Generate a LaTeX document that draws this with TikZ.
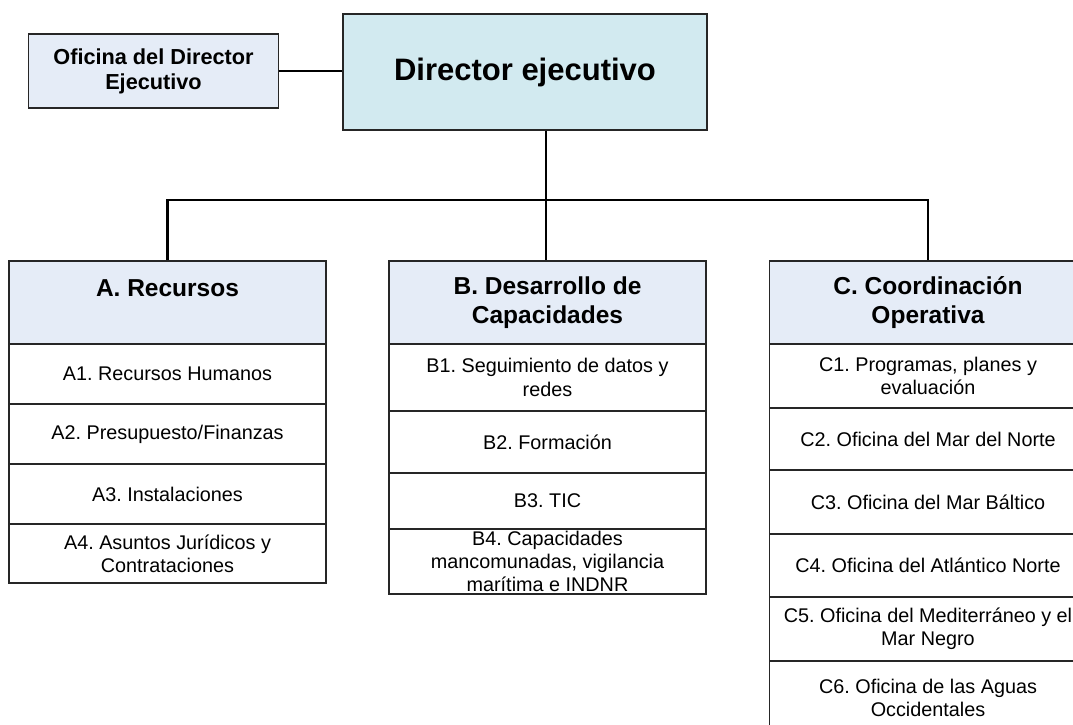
\documentclass[tikz,border=0pt]{standalone}
\usepackage{fontspec}
\setmainfont{Liberation Sans}
\usetikzlibrary{positioning}
\definecolor{dirblue}{RGB}{210,234,240}
\definecolor{headblue}{RGB}{229,236,247}

\begin{document}
\frenchspacing
\begin{tikzpicture}[x=1pt, y=-1pt,
        box/.style={rectangle, draw=black!85, line width=1.1pt, inner sep=0pt, align=center},
        head/.style={box, fill=headblue, minimum width=317pt, minimum height=83pt, font=\fontsize{24.5}{29.5}\selectfont\bfseries},
        unit/.style={box, fill=white, minimum width=317pt, font=\fontsize{19.8}{23.3}\selectfont},
        link/.style={line width=2.6pt}
    ]
        \useasboundingbox (0,0) rectangle (1073,725);

        % Top level
        \node[box, fill=dirblue, minimum width=364pt, minimum height=116pt, font=\fontsize{31}{37}\selectfont\bfseries] (director) at (525,72) {Director ejecutivo};
        \node[box, fill=headblue, minimum width=250pt, minimum height=74pt, font=\fontsize{21.7}{25}\selectfont\bfseries] (office) at (153.5,71) {Oficina del Director\\Ejecutivo};

        % A. Recursos
        \node[head] (headA) at (167.5,302.5) {A. Recursos\\\vphantom{A}};
        \node[unit, minimum height=60pt] (a1) at (167.5,374) {A1. Recursos Humanos};
        \node[unit, minimum height=60pt] (a2) at (167.5,434) {A2. Presupuesto/Finanzas};
        \node[unit, minimum height=60pt] (a3) at (167.5,494) {A3. Instalaciones};
        \node[unit, minimum height=59pt] (a4) at (167.5,553.5) {A4. Asuntos Jurídicos y\\Contrataciones};

        % B. Desarrollo de Capacidades
        \node[head] (headB) at (547.5,302.5) {B. Desarrollo de\\Capacidades};
        \node[unit, minimum height=67pt] (b1) at (547.5,377.5) {B1. Seguimiento de datos y\\redes};
        \node[unit, minimum height=62pt] (b2) at (547.5,442) {B2. Formación};
        \node[unit, minimum height=56pt] (b3) at (547.5,501) {B3. TIC};
        \node[unit, minimum height=65pt, inner ysep=-2pt] (b4) at (547.5,561.5) {B4. Capacidades\\mancomunadas, vigilancia\\marítima e INDNR};

        % C. Coordinacion Operativa
        \node[head] (headC) at (928,302.5) {C. Coordinación\\Operativa};
        \node[unit, minimum height=64pt] (c1) at (928,376) {C1. Programas, planes y\\evaluación};
        \node[unit, minimum height=62pt] (c2) at (928,439) {C2. Oficina del Mar del Norte};
        \node[unit, minimum height=64pt] (c3) at (928,502) {C3. Oficina del Mar Báltico};
        \node[unit, minimum height=63pt] (c4) at (928,565.5) {C4. Oficina del Atlántico Norte};
        \node[unit, minimum height=64pt] (c5) at (928,629) {C5. Oficina del Mediterráneo y el\\Mar Negro};
        \node[unit, minimum height=74pt] (c6) at (928,698) {C6. Oficina de las Aguas\\Occidentales};

        % Connectors
        \coordinate (bus) at (546,200);
        \draw[link] (office.east) -- (office.east -| director.west);
        \draw[link] (bus |- director.south) -- (bus);
        \draw[link] (headA.north) |- (bus) -| (headC.north);
        \draw[link] (bus) -- (bus |- headB.north);
    \end{tikzpicture}
\end{document}
